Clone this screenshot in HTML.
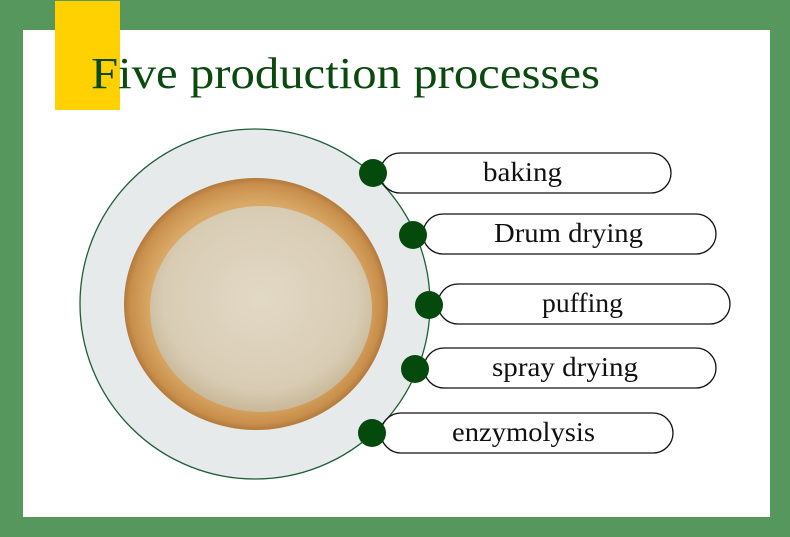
<!DOCTYPE html>
<html><head><meta charset="utf-8"><style>
html,body{margin:0;padding:0;background:#55975c;}
svg{display:block}
text{font-family:"Liberation Serif",serif;}
</style></head><body>
<svg width="790" height="537" viewBox="0 0 790 537" xmlns="http://www.w3.org/2000/svg">
<defs>
<radialGradient id="pw" cx="50%" cy="45%" r="55%">
<stop offset="0" stop-color="#e2d9c6"/><stop offset="0.8" stop-color="#d8ccb4"/><stop offset="1" stop-color="#c9b898"/>
</radialGradient>
<radialGradient id="bw" cx="50%" cy="50%" r="50%">
<stop offset="0.8" stop-color="#d9a866"/><stop offset="0.95" stop-color="#c98f4c"/><stop offset="1" stop-color="#b27a3c"/>
</radialGradient>
</defs>
<rect x="0" y="0" width="790" height="537" fill="#55975c"/>
<rect x="23" y="30" width="747" height="487" fill="#ffffff"/>
<rect x="55" y="1" width="65" height="109" fill="#ffd100"/>
<text x="91" y="88" font-size="44" fill="#0b4a0e" textLength="509" lengthAdjust="spacingAndGlyphs">Five production processes</text>
<circle cx="255" cy="304" r="175" fill="#e6eaea" stroke="#1e5e36" stroke-width="1.3"/>
<ellipse cx="256" cy="304" rx="132" ry="126" fill="url(#bw)"/>
<ellipse cx="261" cy="309" rx="111" ry="103" fill="url(#pw)"/>
<g fill="#fff" stroke="#111" stroke-width="1.3">
<rect x="380" y="153" width="291" height="40" rx="20"/>
<rect x="423" y="214" width="293" height="40" rx="20"/>
<rect x="438" y="284" width="292" height="40" rx="20"/>
<rect x="424" y="348" width="292" height="40" rx="20"/>
<rect x="381" y="413" width="292" height="40" rx="20"/>
</g>
<g fill="#044a0c">
<circle cx="373" cy="173" r="14"/>
<circle cx="413" cy="235" r="14"/>
<circle cx="429" cy="305" r="14"/>
<circle cx="415" cy="369" r="14"/>
<circle cx="372" cy="433" r="14"/>
</g>
<g font-size="27" fill="#111">
<text x="483" y="181" textLength="79" lengthAdjust="spacingAndGlyphs">baking</text>
<text x="494" y="242" textLength="149" lengthAdjust="spacingAndGlyphs">Drum drying</text>
<text x="542" y="312" textLength="81" lengthAdjust="spacingAndGlyphs">puffing</text>
<text x="492" y="376" textLength="146" lengthAdjust="spacingAndGlyphs">spray drying</text>
<text x="452" y="441" textLength="143" lengthAdjust="spacingAndGlyphs">enzymolysis</text>
</g>
</svg>
</body></html>
